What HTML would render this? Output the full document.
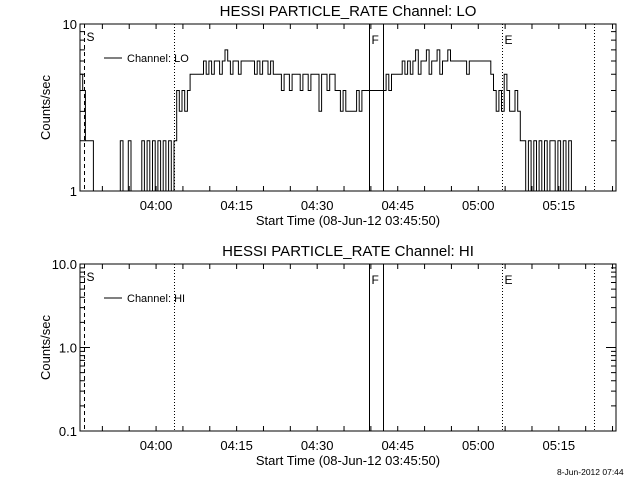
<!DOCTYPE html>
<html><head><meta charset="utf-8"><style>
body{margin:0;background:#fff;}
svg text{font-family:"Liberation Sans",sans-serif;fill:#000;}
</style></head><body>
<svg id="chart" width="640" height="480" xmlns="http://www.w3.org/2000/svg">
<rect width="640" height="480" fill="#fff"/>
<g id="g"></g>
<text x="557" y="475" font-size="8.5">8-Jun-2012 07:44</text>
</svg>
<script>
// data
const loCounts=[5,4,2,2,2,1,1,1,1,1,1,1,1,1,1,2,1,1,2,1,1,1,1,2,1,2,1,2,1,2,1,2,1,2,1,2,4,3,4,3,4,5,5,5,5,5,6,5,6,5,6,6,5,6,7,6,5,6,6,5,6,6,6,6,6,5,6,5,6,6,5,6,5,5,5,4,5,5,4,5,5,5,4,5,5,4,5,5,5,3,5,5,4,5,5,4,4,3,4,3,3,3,3,4,3,4,4,4,4,4,4,4,4,4,5,4,5,5,5,5,6,5,6,5,6,7,5,6,6,7,5,6,6,7,5,6,6,7,6,6,6,6,6,6,5,6,6,6,6,6,6,6,6,5,4,3,4,3,5,4,3,3,4,3,2,2,1,2,1,2,1,2,1,2,1,2,2,1,2,1,2,1,2,1,1];
const hiCounts=[];
const sampleStepMin=0.5;
const xTickLabels=["04:00","04:15","04:30","04:45","05:00","05:15"];
const xTickMinutes=[14.167,29.167,44.167,59.167,74.167,89.167];
const markerMinutes=[0.75,17.5,53.8,56.5,78.5,95.7];
const markerLabels=["S","","F","","E",""];

const NS="http://www.w3.org/2000/svg";
const g=document.getElementById('g');
const X0=80,X1=616,PXM=5.37;
const xs=m=>X0+m*PXM;
function el(tag,attrs,txt){const e=document.createElementNS(NS,tag);for(const k in attrs)e.setAttribute(k,attrs[k]);if(txt!==undefined)e.textContent=txt;g.appendChild(e);return e;}

function panel(top,bot,lmin,lmax,ylabels,title,legend,data,pname){
  const ys=v=>bot-(Math.log10(v)-lmin)/(lmax-lmin)*(bot-top);
  const frame=el('rect',{x:X0,y:top,width:X1-X0,height:bot-top,fill:'none',stroke:'#000','stroke-width':1});
  
  
  for(let d=lmin;d<lmax;d++){for(let k=1;k<10;k++){const v=Math.pow(10,d)*k;const y=ys(v);const len=k===1?10:5;
    const t=el('path',{d:`M${X0} ${y}h${len}M${X1} ${y}h${-len}`,stroke:'#000'});
    
    }}
  ylabels.forEach((s,i)=>{const v=Math.pow(10,lmin+i*(lmax-lmin)/(ylabels.length-1));
    const t=el('text',{x:X0-3,y:ys(v)+5,'font-size':13,'text-anchor':'end'},s);
    
    });
  for(let m=4.167;xs(m)<X1;m+=5){const x=xs(m);
    const t=el('path',{d:`M${x} ${bot}v-5M${x} ${top}v5`,stroke:'#000'});
    
    }
  xTickLabels.forEach((s,i)=>{const t=el('text',{x:xs(xTickMinutes[i]),y:bot+19,'font-size':13,'text-anchor':'middle'},s);
    
    });
  const xt=el('text',{x:348,y:bot+34,'font-size':13,'text-anchor':'middle'},'Start Time (08-Jun-12 03:45:50)');
  
  
  const yt=el('text',{x:0,y:0,'font-size':13,'text-anchor':'middle',transform:`translate(50 ${(top+bot)/2}) rotate(-90)`},'Counts/sec');
  
  
  const tt=el('text',{x:348,y:top-8,'font-size':15,'text-anchor':'middle'},title);
  
  
  const sty2=['4,3','1,2','','','1,2','1,2'];
  markerMinutes.forEach((m,i)=>{const x=Math.round(xs(m))+0.5;
    const a={x1:x,x2:x,y1:top,y2:bot,stroke:'#000'};if(sty2[i])a['stroke-dasharray']=sty2[i];
    const l=el('line',a);
    
    
    if(markerLabels[i]){const t=el('text',{x:x+2,y:top+(i===0?17:20),'font-size':12},markerLabels[i]);
      
      }});
  const ll=el('line',{x1:104,x2:122,y1:top+34,y2:top+34,stroke:'#000'});
  
  
  const lt=el('text',{x:127,y:top+38,'font-size':11},legend);
  
  
  if(data.length){
    let d='';
    data.forEach((v,i)=>{const xa=xs(i*sampleStepMin).toFixed(1),xb=xs((i+1)*sampleStepMin).toFixed(1),y=ys(v).toFixed(1);
      d+=(i===0?'M':'L')+xa+' '+y+'L'+xb+' '+y;});
    const p=el('path',{d:d,fill:'none',stroke:'#000','stroke-width':1});
    
    }
}
panel(24,191,0,1,['1','10'],'HESSI PARTICLE_RATE Channel: LO','Channel: LO',loCounts,'lo');
panel(264,431,-1,1,['0.1','1.0','10.0'],'HESSI PARTICLE_RATE Channel: HI','Channel: HI',hiCounts,'hi');
</script>
</body></html>
